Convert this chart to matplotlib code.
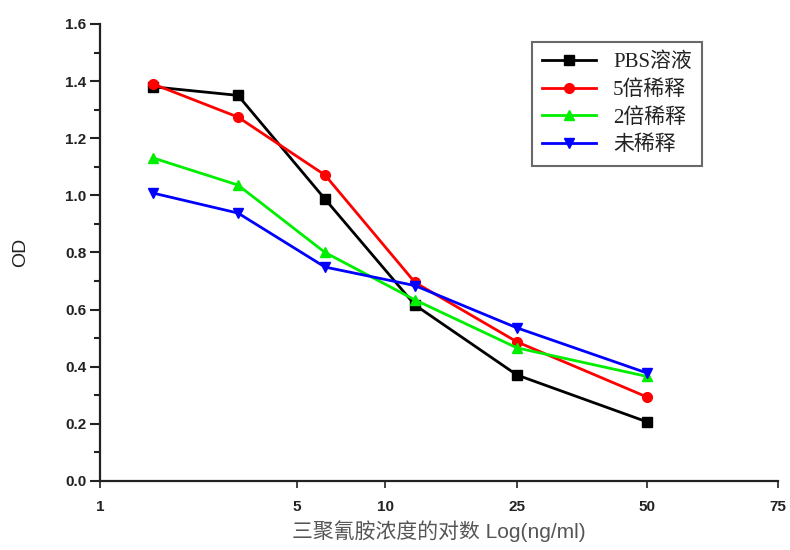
import matplotlib
matplotlib.use('Agg')
import matplotlib.pyplot as plt
from matplotlib.ticker import MultipleLocator, FormatStrFormatter

# x position of each dilution step along the axis, and the axis tick layout
x_pos = [0.53, 1.38, 2.25, 3.15, 4.17, 5.47]
tick_pos = [0, 1.97, 2.85, 4.17, 5.47, 6.78]
tick_labels = ['1', '5', '10', '25', '50', '75']

# OD readings per sample
od_pbs = [1.38, 1.35, 0.987, 0.616, 0.371, 0.207]
od_5x = [1.39, 1.274, 1.071, 0.695, 0.487, 0.294]
od_2x = [1.131, 1.036, 0.80, 0.634, 0.466, 0.366]
od_raw = [1.008, 0.938, 0.749, 0.684, 0.536, 0.378]

series = [
    ('PBS溶液', od_pbs, 'black', 's'),
    ('5倍稀释', od_5x, 'red', 'o'),
    ('2倍稀释', od_2x, '#00ee00', '^'),
    ('未稀释', od_raw, 'blue', 'v'),
]

fig = plt.figure(figsize=(7.9, 5.5), dpi=100)
ax = fig.add_axes([0.1266, 0.1255, 0.8582, 0.8309])

for name, vals, col, mk in series:
    ax.plot(x_pos, vals, color=col, marker=mk, markersize=7, linewidth=2, label=name)

ax.set_xlim(0, 6.78)
ax.set_ylim(0, 1.6)
ax.set_xticks(tick_pos)
ax.set_xticklabels(tick_labels)
ax.yaxis.set_major_locator(MultipleLocator(0.2))
ax.yaxis.set_minor_locator(MultipleLocator(0.1))
ax.yaxis.set_major_formatter(FormatStrFormatter('%.1f'))

for s in ['top', 'right']:
    ax.spines[s].set_visible(False)
for s in ['left', 'bottom']:
    ax.spines[s].set_linewidth(1.6)
    ax.spines[s].set_color('#222222')
ax.tick_params(axis='y', which='major', direction='out', length=7, width=1.5,
               colors='#222222', labelsize=11, pad=3)
ax.tick_params(axis='y', which='minor', direction='out', length=4, width=1.5, colors='#222222')
ax.tick_params(axis='x', which='major', direction='out', length=5, width=1.2,
               colors='#222222', labelsize=11, pad=9)
for lab in ax.get_xticklabels() + ax.get_yticklabels():
    lab.set_fontweight('bold')
    lab.set_family('Liberation Sans')

ax.set_ylabel('OD', fontsize=14, family='Liberation Sans', color='#222222', labelpad=26)
ax.set_xlabel('三聚氰胺浓度的对数 Log(ng/ml)', fontsize=15, color='#555555',
              family=['Liberation Sans', 'Noto Sans CJK SC'], labelpad=4)

leg = ax.legend(loc='upper left', bbox_to_anchor=(0.637, 0.96), fancybox=False,
                edgecolor='#444444', handlelength=2.6, handletextpad=0.8,
                borderpad=0.5, labelspacing=0.38, borderaxespad=0,
                prop={'family': ['Liberation Serif', 'Noto Sans CJK SC'], 'size': 15})
leg.get_frame().set_linewidth(1.5)
for t in leg.get_texts():
    t.set_color('#222222')

fig.savefig('out.png', dpi=100)
